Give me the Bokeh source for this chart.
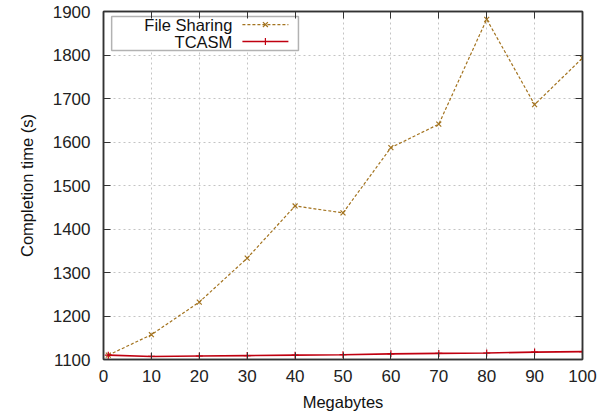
from bokeh.plotting import figure
from bokeh.models import Range1d, LinearAxis, FixedTicker, BoxAnnotation, Label, CustomJSTickFormatter
from bokeh.embed import file_html
from bokeh.resources import INLINE

# Data
megabytes = [1, 10, 20, 30, 40, 50, 60, 70, 80, 90, 100]
file_sharing = [1110, 1157, 1232, 1333, 1453, 1437, 1587, 1641, 1882, 1686, 1793]
tcasm = [1110, 1107, 1108, 1109, 1110, 1111, 1113, 1114, 1115, 1117, 1118]
x_ticks = [0, 10, 20, 30, 40, 50, 60, 70, 80, 90, 100]
y_ticks = [1100, 1200, 1300, 1400, 1500, 1600, 1700, 1800, 1900]
series_names = ["File Sharing", "TCASM"]

FS_COLOR = "#a3731f"
TC_COLOR = "#c00010"
FONT = "Liberation Sans"

p = figure(width=610, height=415, output_backend="svg", toolbar_location=None,
           x_range=Range1d(0, 100), y_range=Range1d(1100, 1900),
           min_border_left=103, min_border_right=28, min_border_top=11,
           min_border_bottom=56)
p.background_fill_color = "white"
p.border_fill_color = "white"
p.outline_line_color = "#333333"
p.outline_line_width = 1.5

for ax in (p.xaxis[0], p.yaxis[0]):
    ax.major_tick_out = 0
    ax.major_tick_in = 7
    ax.minor_tick_out = 0
    ax.minor_tick_in = 0
    ax.axis_line_color = "#333333"
    ax.axis_line_width = 1.5
    ax.major_tick_line_color = "#333333"
    ax.major_label_text_font = FONT
    ax.major_label_text_font_size = "17px"
    ax.major_label_text_color = "#222222"
    ax.axis_label_text_font = FONT
    ax.axis_label_text_font_size = "16.5px"
    ax.axis_label_text_font_style = "normal"
    ax.axis_label_text_color = "#111111"

p.xaxis[0].ticker = FixedTicker(ticks=x_ticks)
p.yaxis[0].ticker = FixedTicker(ticks=y_ticks)
p.xaxis[0].axis_label = "Megabytes"
p.yaxis[0].axis_label = "Completion time (s)"
p.xaxis[0].major_label_standoff = 10
p.yaxis[0].major_label_standoff = 13
p.xaxis[0].axis_label_standoff = 8
p.yaxis[0].axis_label_standoff = 14

# mirror ticks (no labels)
for loc, ticks in (("right", y_ticks), ("above", x_ticks)):
    ax = LinearAxis(ticker=FixedTicker(ticks=ticks),
                    formatter=CustomJSTickFormatter(code="return ''"))
    ax.major_label_standoff = 0
    ax.major_tick_out = 0
    ax.major_tick_in = 7
    ax.minor_tick_out = 0
    ax.minor_tick_in = 0
    ax.axis_line_color = "#333333"
    ax.axis_line_width = 1.5
    ax.major_tick_line_color = "#333333"
    p.add_layout(ax, loc)

p.xgrid.ticker = FixedTicker(ticks=x_ticks)
p.ygrid.ticker = FixedTicker(ticks=y_ticks)
for g in (p.xgrid[0], p.ygrid[0]):
    g.grid_line_color = "#c4c4c4"
    g.grid_line_dash = "2 3"
    g.grid_line_width = 1

# legend (gnuplot style: label right-aligned, sample to the right), in data units
LEG = dict(left=1.7, right=40.7, top=1888.5, bottom=1810.3,
           text_x=26.9, rows=[1870, 1831], s0=29.0, s1=38.6, sm=33.8)
p.add_layout(BoxAnnotation(left=LEG["left"], right=LEG["right"], top=LEG["top"],
                           bottom=LEG["bottom"], fill_color="white", fill_alpha=1,
                           line_color="black", line_width=1.5, level="underlay"))

# series
p.line(megabytes, file_sharing, line_color=FS_COLOR, line_width=1.2, line_dash="3 2")
p.scatter(megabytes, file_sharing, marker="x", size=7, line_color=FS_COLOR, line_width=1.2)
p.line(megabytes, tcasm, line_color=TC_COLOR, line_width=1.6)
p.scatter(megabytes, tcasm, marker="cross", size=7, line_color=TC_COLOR, line_width=1.2)

styles = [(FS_COLOR, "3 2", "x", 1.2), (TC_COLOR, "solid", "cross", 1.6)]
for name, y, (col, dash, mk, lw) in zip(series_names, LEG["rows"], styles):
    p.add_layout(Label(x=LEG["text_x"], y=y, text=name, text_align="right",
                       text_baseline="middle", text_font=FONT, text_font_size="16.5px",
                       text_color="#111111"))
    p.line([LEG["s0"], LEG["s1"]], [y, y], line_color=col, line_width=lw, line_dash=dash)
    p.scatter([LEG["sm"]], [y], marker=mk, size=7, line_color=col, line_width=1.2)

open("out.html", "w").write(file_html(p, INLINE))
